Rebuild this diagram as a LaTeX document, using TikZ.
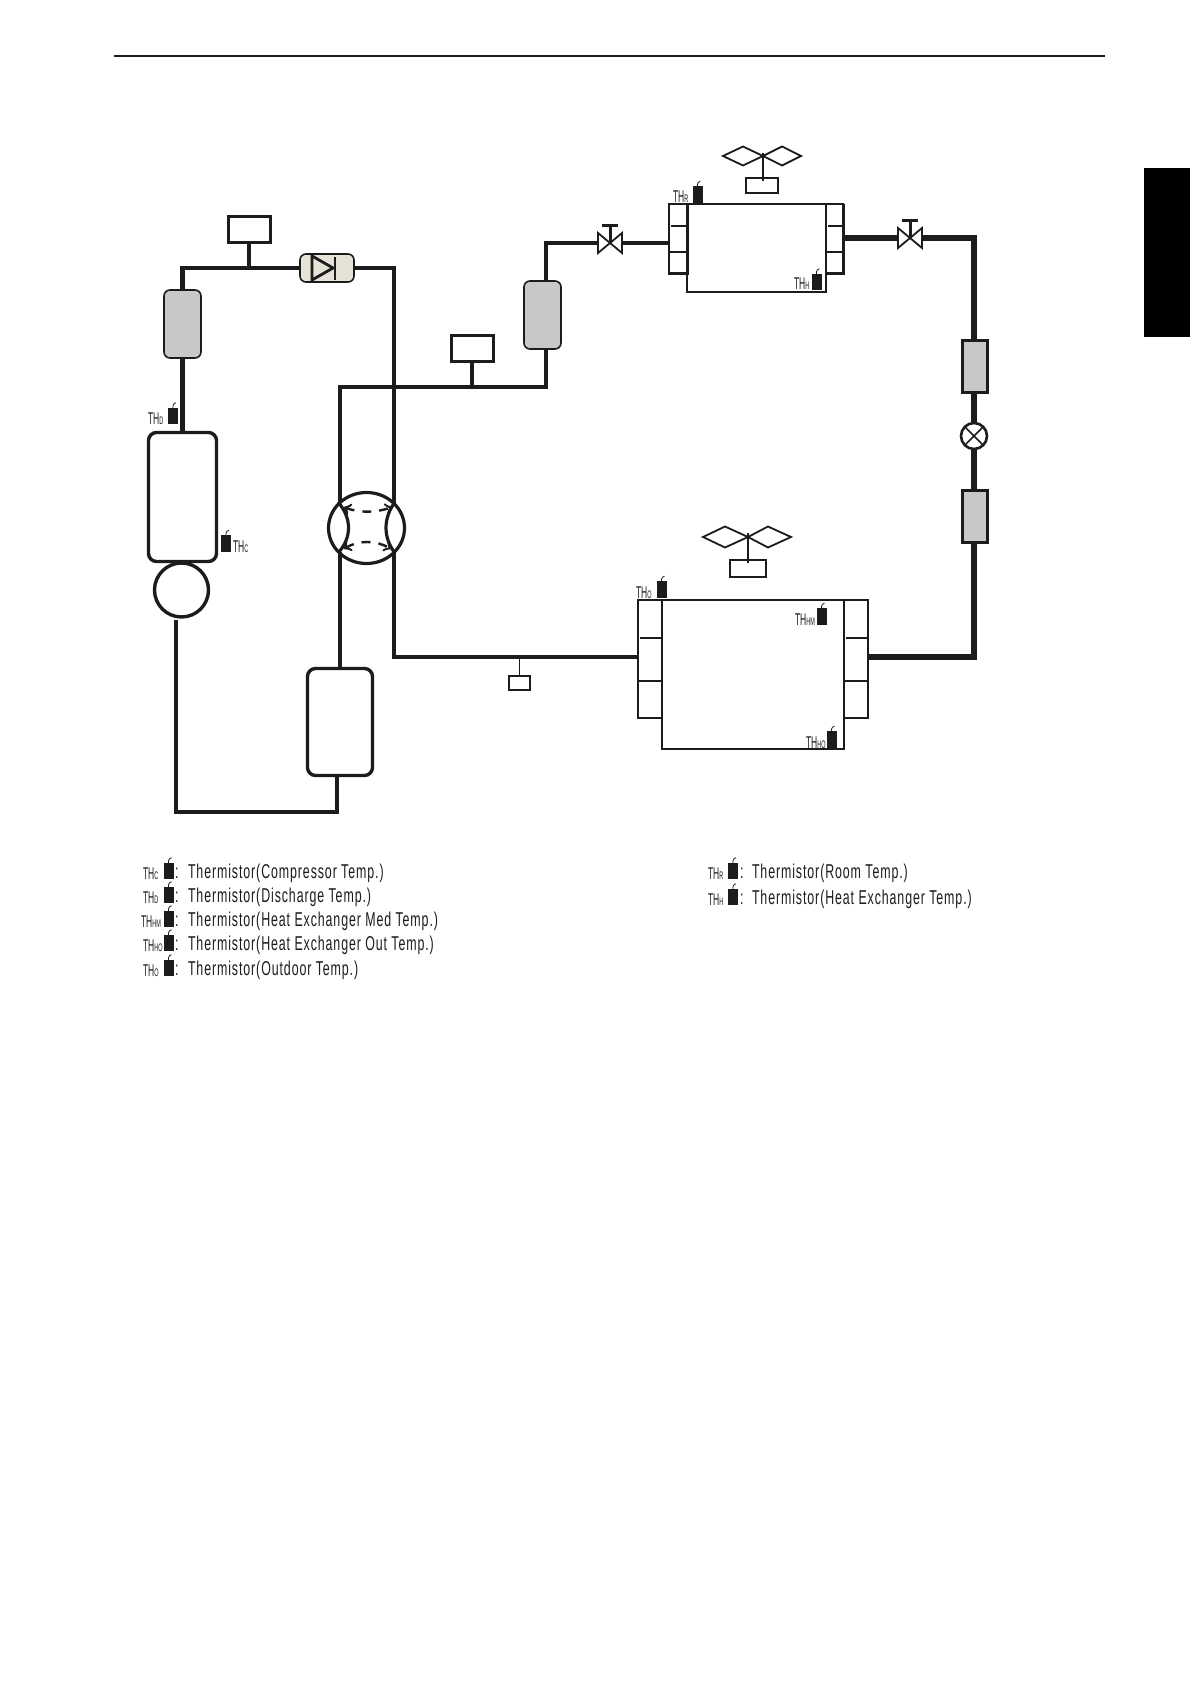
\documentclass[tikz,border=0pt]{standalone}
\usepackage{fontspec}
\usetikzlibrary{shapes.geometric}
\newfontfamily\legendfont[FakeStretch=0.62,LetterSpace=4.5]{Liberation Sans}
\newfontfamily\thfont[FakeStretch=0.5]{Liberation Sans}
\definecolor{pipeblack}{HTML}{1C1C1C}
\definecolor{mufflergray}{HTML}{C8C8C8}
\definecolor{checkbeige}{HTML}{E4E3D5}
\newcommand{\thname}[2][TH]{{\thfont\fontsize{8.5pt}{8.5pt}\selectfont #1{\fontsize{5.5pt}{5.5pt}\selectfont #2}}}
\newcommand{\thermistor}[2]{%
    \node[thermbody] (#1) at (#2) {};
    \draw[thermlead] (#1.north) -- ++(0,-2) to[bend left=40] ++(3,-3);
}
\tikzset{
    pipe/.style={line width=2.2pt,color=pipeblack,line join=miter},
    heavypipe/.style={line width=2.6pt,color=pipeblack,line join=miter},
    vessel/.style={draw=pipeblack,line width=1.7pt,fill=white,rounded corners=4pt,inner sep=0pt,outer sep=0pt},
    muffler/.style={draw=pipeblack,line width=0.8pt,fill=mufflergray,rounded corners=3pt,inner sep=0pt,outer sep=0pt,minimum width=18.5pt},
    sensorbox/.style={draw=pipeblack,line width=1.5pt,fill=white,inner sep=0pt,outer sep=0pt,minimum width=21pt,minimum height=13pt},
    motorbox/.style={draw=pipeblack,line width=0.6pt,fill=white,inner sep=0pt,outer sep=0pt},
    coilbox/.style={draw=pipeblack,line width=1.5pt,fill=mufflergray,inner sep=0pt,outer sep=0pt,minimum width=12.5pt,minimum height=26pt},
    hxbox/.style={draw=pipeblack,line width=0.7pt,fill=white,inner sep=0pt,outer sep=0pt},
    valvebody/.style={inner sep=0pt,outer sep=0pt,minimum width=12pt,minimum height=10pt},
    thermbody/.style={fill=pipeblack,inner sep=0pt,outer sep=0pt,minimum width=5pt,minimum height=8.2pt},
    thermlead/.style={line width=0.4pt,color=pipeblack},
    thtext/.style={inner sep=0pt,outer sep=0pt,anchor=base west,text=pipeblack},
    legendtext/.style={inner sep=0pt,outer sep=0pt,anchor=base west,text=pipeblack,font=\legendfont\fontsize{10pt}{10pt}\selectfont},
}
\begin{document}
\begin{tikzpicture}[x=0.5pt,y=-0.5pt]
    \useasboundingbox (0,0) rectangle (1190,1684);
    \draw[line width=1pt,color=pipeblack] (114,56)--(1105,56);
    \fill[color=black] (1144,168) rectangle (1190,337);

    \node[sensorbox] (highsensor) at (249,229.5) {};
    \node[muffler,minimum height=34pt] (muffleone) at (182.5,324) {};
    \node[vessel,minimum width=34pt,minimum height=64.5pt] (compressor) at (182.5,497) {};
    \node[circle,draw=pipeblack,line width=1.7pt,fill=white,inner sep=0pt,outer sep=0pt,minimum size=27pt] (motor) at (181.5,590) {};
    \node[draw=pipeblack,line width=0.8pt,fill=checkbeige,rounded corners=3pt,inner sep=0pt,outer sep=0pt,minimum width=27pt,minimum height=14pt] (checkvalve) at (327,268) {};
    \node[sensorbox] (lowsensor) at (472,349) {};
    \node[muffler,minimum height=34pt] (muffletwo) at (542.5,315) {};
    \node[ellipse,draw=pipeblack,line width=1.6pt,fill=white,inner sep=0pt,outer sep=0pt,minimum width=38pt,minimum height=35.5pt] (revvalve) at (366.5,528) {};
    \node[vessel,minimum width=32.5pt,minimum height=53.5pt] (accumulator) at (340,722) {};
    \node[motorbox,minimum width=10.5pt,minimum height=7pt] (linesensor) at (519.5,683) {};

    \node[hxbox,minimum width=9pt,minimum height=35pt] (inleft) at (678,239) {};
    \node[hxbox,minimum width=9pt,minimum height=35pt] (inright) at (834.5,239) {};
    \node[hxbox,minimum width=69.5pt,minimum height=44pt] (indoorhx) at (756.5,248) {};
    \node[hxbox,minimum width=12pt,minimum height=59pt] (outleft) at (650,659) {};
    \node[hxbox,minimum width=12pt,minimum height=59pt] (outright) at (856,659) {};
    \node[hxbox,minimum width=91pt,minimum height=74.5pt] (outdoorhx) at (753,674.5) {};
    \node[motorbox,minimum width=16pt,minimum height=7.5pt] (inmotor) at (762,185.5) {};
    \node[motorbox,minimum width=18pt,minimum height=8.5pt] (outmotor) at (748,568.5) {};

    \node[valvebody] (valveone) at (610,243) {};
    \node[valvebody] (valvetwo) at (910,238) {};
    \node[coilbox] (coilone) at (974.5,366.5) {};
    \node[circle,draw=pipeblack,line width=1.3pt,fill=white,inner sep=0pt,outer sep=0pt,minimum size=13pt] (expvalve) at (974,436) {};
    \node[coilbox] (coiltwo) at (975,516.5) {};

    \coordinate (disbend) at (394,268);
    \coordinate (revtr) at (394,503);
    \coordinate (revtl) at (340,503);
    \coordinate (revbr) at (394,552);
    \coordinate (revbl) at (340,552);
    \coordinate (sucbend) at (546,387);
    \coordinate (mufbot) at (546,349);
    \coordinate (muftop) at (546,281);
    \coordinate (outin) at (638,657);
    \coordinate (outout) at (868,657);
    \coordinate (accbot) at (337,776);
    \coordinate (botleft) at (176,812);
    \coordinate (compin) at (176,620);
    \coordinate (rightbend) at (974,238);
    \coordinate (lowbend) at (974,657);

    \draw[pipe] (highsensor.south)--(highsensor.south |- checkvalve.west);
    \draw[pipe] (muffleone.north) |- (checkvalve.west);
    \draw[pipe] (muffleone.south)--(compressor.north);
    \draw[pipe] (checkvalve.east) -| (revtr);
    \draw[pipe] (revbr) |- (outin);
    \draw[pipe] (revtl) |- (sucbend)--(mufbot);
    \draw[pipe] (lowsensor.south)--(lowsensor.south |- sucbend);
    \draw[pipe] (muftop) |- (valveone.west);
    \draw[pipe] (valveone.east)--(inleft.west |- valveone.east);
    \draw[pipe] (revbl)--(accumulator.north);
    \draw[pipe] (accbot) |- (botleft)--(compin);
    \draw[line width=0.7pt,color=pipeblack] (linesensor.north)--(linesensor.north |- outin);
    \draw[heavypipe] (inright.east |- valvetwo.west)--(valvetwo.west);
    \draw[heavypipe] (valvetwo.east)--(rightbend)--(coilone.north -| rightbend);
    \draw[heavypipe] (coilone.south -| rightbend)--(expvalve.north);
    \draw[heavypipe] (expvalve.south)--(coiltwo.north -| expvalve.south);
    \draw[heavypipe] (coiltwo.south -| expvalve.south)--(lowbend)--(outout);

    \draw[line width=1.4pt,color=pipeblack] (312,256)--(312,280)--(333,268)--cycle;
    \draw[line width=1.4pt,color=pipeblack] (335,257)--(335,280);

    \draw[line width=1.6pt,color=pipeblack] (338,502) .. controls (352,518) and (352,538) .. (338,553);
    \draw[line width=1.6pt,color=pipeblack] (395,502) .. controls (383,518) and (383,538) .. (395,553);
    \draw[<->,line width=1.2pt,color=pipeblack,dash pattern=on 4.5pt off 4pt] (344,507) .. controls (358,513) and (376,513) .. (392,507);
    \draw[<->,line width=1.2pt,color=pipeblack,dash pattern=on 4.5pt off 4pt] (344,549) .. controls (358,540) and (376,540) .. (391,549);

    \draw[line width=0.8pt,color=pipeblack] (expvalve.north west)--(expvalve.south east);
    \draw[line width=0.8pt,color=pipeblack] (expvalve.north east)--(expvalve.south west);

    \foreach \valvename in {valveone,valvetwo} {
        \draw[line width=0.9pt,color=pipeblack,fill=white] (\valvename.north west)--(\valvename.south east)--(\valvename.north east)--(\valvename.south west)--cycle;
        \draw[line width=1.5pt,color=pipeblack] (\valvename.center)--++(0,-17) ++(-8,0)--++(16,0);
    }

    \draw[line width=1.5pt,color=pipeblack] (inleft.north east)--(inleft.south east)--(inleft.south west);
    \draw[line width=1.5pt,color=pipeblack] (inright.north east)--(inright.south east)--(inright.south west);
    \draw[line width=1.5pt,color=pipeblack] (inright.north east)--(inright.south east);
    \draw[line width=0.6pt,color=pipeblack] (671,226)--(inleft.east |- 671,226);
    \draw[line width=0.6pt,color=pipeblack] (828,226)--(842,226);
    \draw[line width=1.4pt,color=pipeblack] (inleft.west |- 0,252)--(inleft.east |- 0,252);
    \draw[line width=1.4pt,color=pipeblack] (inright.west |- 0,252)--(inright.east |- 0,252);

    \draw[line width=1.3pt,color=pipeblack] (outdoorhx.north west)--(outdoorhx.south west)--(outdoorhx.south east)--(outdoorhx.north east);
    \draw[line width=1.1pt,color=pipeblack] (640,638)--(662,638);
    \draw[line width=1.1pt,color=pipeblack] (638,681)--(662,681);
    \draw[line width=1.1pt,color=pipeblack] (638,718)--(662,718);
    \draw[line width=1.1pt,color=pipeblack] (846,638)--(868,638);
    \draw[line width=1.1pt,color=pipeblack] (844,681)--(868,681);
    \draw[line width=1.1pt,color=pipeblack] (844,718)--(868,718);

    \coordinate (inhub) at (763,156);
    \coordinate (outhub) at (748,537);
    \draw[line width=0.9pt,color=pipeblack] (inhub)--++(-20,-9.5)--++(-20,9.5)--++(20,9.5)--cycle;
    \draw[line width=0.9pt,color=pipeblack] (inhub)--++(19,-9.5)--++(19,9.5)--++(-19,9.5)--cycle;
    \draw[line width=1.2pt,color=pipeblack] (763,153)--(763,181);
    \draw[line width=0.9pt,color=pipeblack] (outhub)--++(-23,-10.5)--++(-22,10.5)--++(22,10.5)--cycle;
    \draw[line width=0.9pt,color=pipeblack] (outhub)--++(20,-10.5)--++(23,10.5)--++(-23,10.5)--cycle;
    \draw[line width=0.7pt,color=pipeblack] (748,533)--(748,563);

    \thermistor{thermd}{173,416}
    \thermistor{thermc}{226,543.5}
    \thermistor{thermr}{697.5,194.5}
    \thermistor{thermh}{816.5,282}
    \thermistor{thermo}{661.5,589.5}
    \thermistor{thermhm}{821.5,616.5}
    \thermistor{thermho}{831.5,739.5}
    \node[thtext] (labeld) at (148,424) {\thname{D}};
    \node[thtext] (labelc) at (233,552) {\thname{C}};
    \node[thtext] (labelr) at (673,203) {\thname{R}};
    \node[thtext] (labelh) at (794,290) {\thname{H}};
    \node[thtext] (labelo) at (636,598) {\thname{O}};
    \node[thtext] (labelhm) at (795,625) {\thname{HM}};
    \node[thtext] (labelho) at (806,748) {\thname{HO}};

    \foreach \rowname/\rowy/\rowx/\rowsub/\rowtext in {
        legc/879/143/C/Thermistor(Compressor Temp.),
        legd/903/143/D/Thermistor(Discharge Temp.),
        leghm/927/141/HM/Thermistor(Heat Exchanger Med Temp.),
        legho/951/143/HO/Thermistor(Heat Exchanger Out Temp.),
        lego/976/143/O/Thermistor(Outdoor Temp.)} {
        \thermistor{\rowname icon}{168.5,\rowy-8}
        \node[thtext] (\rowname name) at (\rowx,\rowy) {\thname{\rowsub}};
        \node[legendtext] (\rowname colon) at (175,\rowy-1) {:};
        \node[legendtext] (\rowname text) at (188,\rowy-1) {\rowtext};
    }
    \foreach \rowname/\rowy/\rowsub/\rowtext in {
        legr/879/R/Thermistor(Room Temp.),
        legh/905/H/Thermistor(Heat Exchanger Temp.)} {
        \thermistor{\rowname icon}{733,\rowy-8}
        \node[thtext] (\rowname name) at (708,\rowy) {\thname{\rowsub}};
        \node[legendtext] (\rowname colon) at (740,\rowy-1) {:};
        \node[legendtext] (\rowname text) at (752,\rowy-1) {\rowtext};
    }
\end{tikzpicture}
\end{document}
